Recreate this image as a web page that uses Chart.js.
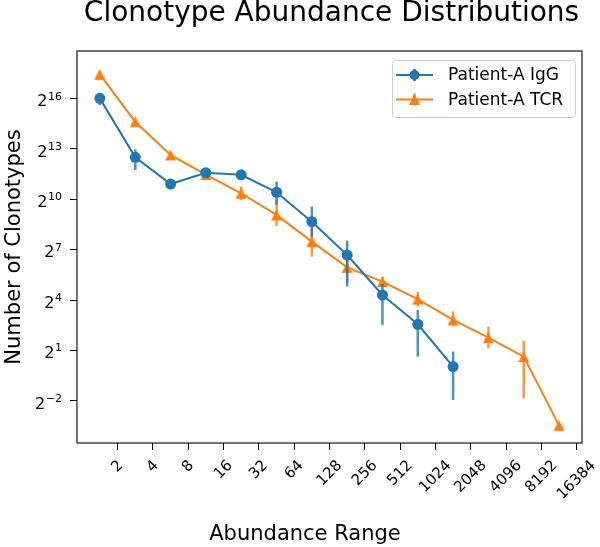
<!DOCTYPE html>
<html>
<head>
<meta charset="utf-8">
<script src="https://cdn.jsdelivr.net/npm/chart.js@4.4.0/dist/chart.umd.min.js"></script>
<style>
  html, body { margin: 0; padding: 0; background: #fff; }
  #wrap { width: 600px; height: 547px; }
</style>
</head>
<body>
<div id="wrap"><canvas id="abundanceChart" width="600" height="547"></canvas></div>
<script>
// centre of each power-of-two abundance bin
const binCenters = [1.41, 2.83, 5.66, 11.3, 22.6, 45.3, 90.5, 181, 362, 724, 1448, 2896, 5793, 11585];

const iggLabel = 'Patient-A IgG';
const iggCounts = [66000, 5793, 1924, 3062, 2818, 1370, 407, 102.5, 19.7, 5.90, 1.03];
const iggLow = [50000, 3420, null, null, null, 809, 218, 27.9, 5.74, 1.55, 0.259];
const iggHigh = [81300, 8080, null, null, null, 2120, 755, 186, 31.1, 10.6, 1.91];

const tcrLabel = 'Patient-A TCR';
const tcrCounts = [177800, 25180, 6383, 2837, 1314, 537, 178.6, 61.8, 34.3, 16.6, 7.06, 3.39, 1.55, 0.0909];
const tcrLow = [null, null, null, null, 996, 340, 95.7, 32, 27.9, 12.2, 5.39, 2.19, 0.277, null];
const tcrHigh = [null, null, null, null, 1722, 996, 309, 83.9, 41.9, 22.6, 9.99, 5.35, 2.97, null];

const xTickValues = [2, 4, 8, 16, 32, 64, 128, 256, 512, 1024, 2048, 4096, 8192, 16384];
const xTickLabels = ['2', '4', '8', '16', '32', '64', '128', '256', '512', '1024', '2048', '4096', '8192', '16384'];
const yTickValues = [0.25, 2, 16, 128, 1024, 8192, 65536];
const yTickBase = '2';
const yTickExponents = ['\u22122', '1', '4', '7', '10', '13', '16'];

const BLUE = '#1f77b4';
const ORANGE = '#ff7f0e';
const FONT = '"DejaVu Sans", sans-serif';

// matplotlib style '^' marker
function makeTriangle(color) {
    const c = document.createElement('canvas');
    c.width = 13; c.height = 13;
    const g = c.getContext('2d');
    g.fillStyle = color;
    g.beginPath();
    g.moveTo(6.5, 1);
    g.lineTo(12, 12);
    g.lineTo(1, 12);
    g.closePath();
    g.fill();
    return c;
}
const triangle = makeTriangle(ORANGE);

function toPoints(xs, ys) {
    return ys.map((y, i) => ({ x: xs[i], y: y }));
}

const errorBars = [
    { low: iggLow, high: iggHigh, color: 'rgba(31,119,180,0.8)' },
    { low: tcrLow, high: tcrHigh, color: 'rgba(255,127,14,0.8)' }
];

const decorPlugin = {
    id: 'decor',
    beforeDatasetDraw(chart, args) {
        const bars = errorBars[args.index];
        const ctx = chart.ctx;
        const xs = chart.scales.x, ys = chart.scales.y;
        ctx.save();
        ctx.strokeStyle = bars.color;
        ctx.lineWidth = 2.5;
        bars.low.forEach((lo, i) => {
            if (lo == null) return;
            const px = xs.getPixelForValue(binCenters[i]);
            ctx.beginPath();
            ctx.moveTo(px, ys.getPixelForValue(lo));
            ctx.lineTo(px, ys.getPixelForValue(bars.high[i]));
            ctx.stroke();
        });
        ctx.restore();
    },
    afterDraw(chart) {
        const ctx = chart.ctx;
        const a = chart.chartArea;
        ctx.save();

        // axes frame
        ctx.strokeStyle = '#000';
        ctx.lineWidth = 1.1;
        ctx.strokeRect(a.left, a.top, a.right - a.left, a.bottom - a.top);

        // y tick labels as 2 with a raised exponent
        ctx.fillStyle = '#000';
        ctx.textBaseline = 'alphabetic';
        ctx.textAlign = 'left';
        const labelRight = a.left - 15;
        yTickValues.forEach((v, i) => {
            const py = chart.scales.y.getPixelForValue(v);
            ctx.font = '11px ' + FONT;
            const ew = ctx.measureText(yTickExponents[i]).width;
            ctx.font = '16px ' + FONT;
            const bw = ctx.measureText(yTickBase).width;
            const bx = labelRight - ew - bw - 0.5;
            ctx.fillText(yTickBase, bx, py + 7.8);
            ctx.font = '11px ' + FONT;
            ctx.fillText(yTickExponents[i], bx + bw + 0.5, py + 1);
        });

        // rotated x tick labels, centred under each tick
        ctx.font = '15px ' + FONT;
        ctx.textAlign = 'center';
        ctx.textBaseline = 'middle';
        const labelTop = a.bottom + 16;
        xTickValues.forEach((v, i) => {
            const px = chart.scales.x.getPixelForValue(v);
            const w = ctx.measureText(xTickLabels[i]).width;
            const half = (w + 12) / (2 * Math.SQRT2);
            ctx.save();
            ctx.translate(px, labelTop + half);
            ctx.rotate(-Math.PI / 4);
            ctx.fillText(xTickLabels[i], 0, 0);
            ctx.restore();
        });

        // title and axis labels
        ctx.textBaseline = 'alphabetic';
        ctx.font = '28px ' + FONT;
        ctx.fillText('Clonotype Abundance Distributions', 331.5, 21);
        ctx.font = '21px ' + FONT;
        ctx.fillText('Abundance Range', 305, 540);
        ctx.save();
        ctx.translate(19.5, (a.top + a.bottom) / 2);
        ctx.rotate(-Math.PI / 2);
        ctx.fillText('Number of Clonotypes', 0, 0);
        ctx.restore();

        // legend
        const lx = 392.5, ly = 60.5, lw = 183, lh = 57;
        ctx.beginPath();
        ctx.roundRect(lx, ly, lw, lh, 3);
        ctx.fillStyle = 'rgba(255,255,255,0.8)';
        ctx.fill();
        ctx.strokeStyle = '#cccccc';
        ctx.lineWidth = 1;
        ctx.stroke();

        const entries = [
            { label: chart.data.datasets[0].label, color: BLUE, y: 75, circle: true },
            { label: chart.data.datasets[1].label, color: ORANGE, y: 99.5, circle: false }
        ];
        entries.forEach(e => {
            ctx.strokeStyle = e.color;
            ctx.lineWidth = 2;
            ctx.beginPath();
            ctx.moveTo(396, e.y);
            ctx.lineTo(433, e.y);
            ctx.stroke();
            ctx.lineWidth = 2.5;
            ctx.beginPath();
            ctx.moveTo(414.5, e.y - 6);
            ctx.lineTo(414.5, e.y + 6);
            ctx.stroke();
            if (e.circle) {
                ctx.fillStyle = e.color;
                ctx.beginPath();
                ctx.arc(414.5, e.y, 5, 0, Math.PI * 2);
                ctx.fill();
            } else {
                ctx.drawImage(triangle, 414.5 - 6.5, e.y - 6.5);
            }
            ctx.fillStyle = '#000';
            ctx.font = '17px ' + FONT;
            ctx.textAlign = 'left';
            ctx.textBaseline = 'middle';
            ctx.fillText(e.label, 448, e.y + 1);
        });

        ctx.restore();
    }
};

const ctx = document.getElementById('abundanceChart').getContext('2d');
const abundanceChart = new Chart(ctx, {
    type: 'line',
    data: {
        datasets: [{
            label: iggLabel,
            data: toPoints(binCenters, iggCounts),
            borderColor: BLUE,
            backgroundColor: BLUE,
            borderWidth: 2,
            pointStyle: 'circle',
            pointRadius: 5.5,
            pointBorderWidth: 0,
            pointHoverRadius: 5.5
        }, {
            label: tcrLabel,
            data: toPoints(binCenters, tcrCounts),
            borderColor: ORANGE,
            backgroundColor: ORANGE,
            borderWidth: 2,
            pointStyle: triangle,
            pointRadius: 6,
            pointHoverRadius: 6
        }]
    },
    options: {
        responsive: false,
        animation: false,
        devicePixelRatio: 1,
        layout: { padding: { left: 0, right: 18, top: 51, bottom: 0 } },
        plugins: {
            legend: { display: false },
            title: { display: false },
            tooltip: { enabled: false }
        },
        scales: {
            x: {
                type: 'logarithmic',
                min: Math.pow(2, -0.15),
                max: Math.pow(2, 14.15),
                afterBuildTicks: (scale) => {
                    scale.ticks = xTickValues.map(v => ({ value: v }));
                },
                afterFit: (scale) => { scale.height = 104; },
                ticks: { display: false },
                grid: { drawOnChartArea: false, drawTicks: true, tickLength: 7, color: '#000', lineWidth: 1 },
                border: { display: false }
            },
            y: {
                type: 'logarithmic',
                min: Math.pow(2, -4.51),
                max: Math.pow(2, 18.83),
                afterBuildTicks: (scale) => {
                    scale.ticks = yTickValues.map(v => ({ value: v }));
                },
                afterFit: (scale) => { scale.width = 77; },
                ticks: { display: false },
                grid: { drawOnChartArea: false, drawTicks: true, tickLength: 7, color: '#000', lineWidth: 1 },
                border: { display: false }
            }
        }
    },
    plugins: [decorPlugin]
});
</script>
</body>
</html>
